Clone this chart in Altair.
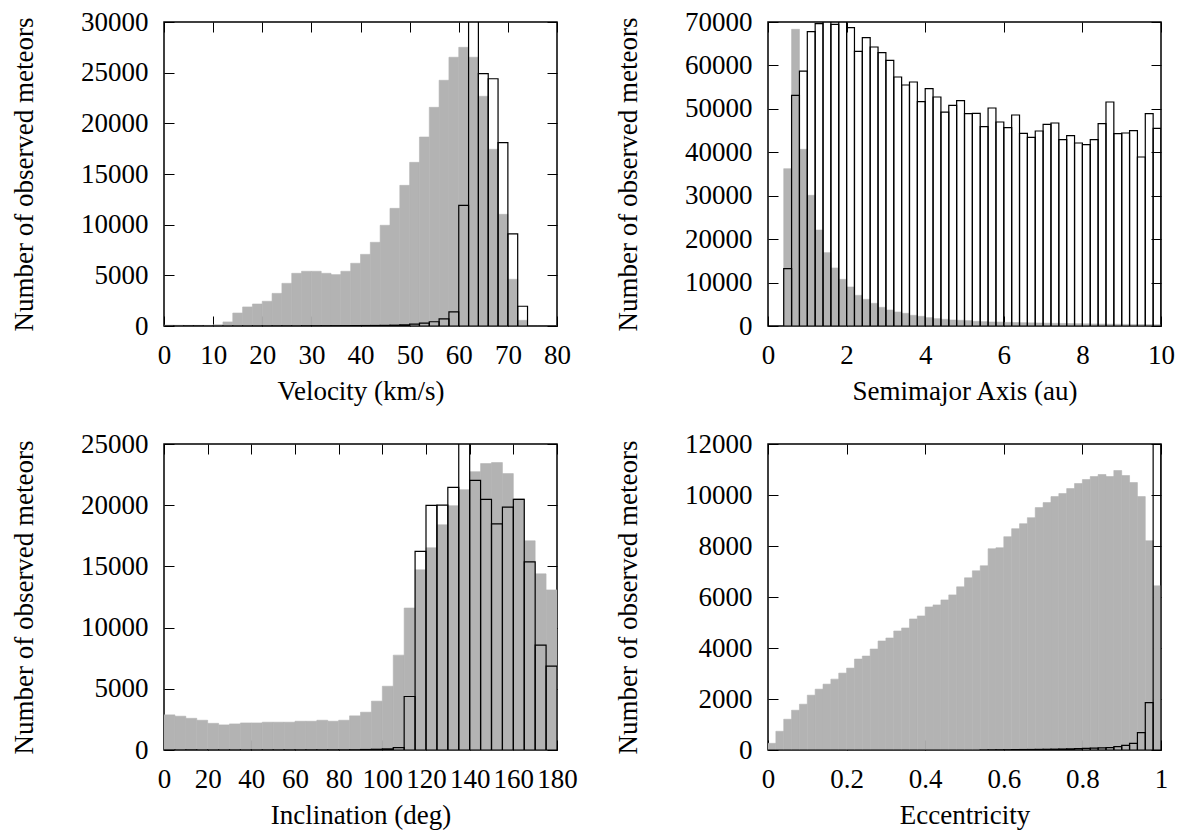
import altair as alt
import pandas as pd

GREY = "#b3b3b3"
FONT = "Liberation Serif"
FS = 27

# ---------------- Velocity (km/s), bins of 2 km/s from 0 to 80 ----------------
vel_lo = list(range(0, 80, 2))
vel_grey = [80, 70, 60, 60, 60, 120, 400, 1280, 1880, 2170,
            2440, 3220, 4210, 5200, 5400, 5400, 5200, 5070, 5400, 6190,
            7070, 8260, 9940, 11610, 13880, 16150, 18650, 21580, 24250, 26520,
            27500, 26520, 22670, 17440, 11020, 4610, 560, 0, 0, 0]
vel_outl = [5, 5, 5, 5, 5, 5, 5, 8, 10, 12,
            15, 18, 20, 22, 25, 28, 30, 32, 35, 40,
            45, 50, 60, 80, 120, 180, 280, 420, 700, 1400,
            11900, 36000, 24900, 24400, 18100, 9100, 1950, 0, 0, 0]

# ---------------- Semimajor axis (au), bins of 0.2 au from 0.4 to 10 ----------------
sma_lo = [round(0.4 + 0.2 * i, 2) for i in range(48)]
sma_grey = [36230, 68310, 40680, 30090, 22100, 16890, 13360, 10750, 8980,
            7060, 6140, 5220, 4300, 3680, 3220, 2920, 2460, 2230,
            1920, 1690, 1540, 1380, 1310, 1230, 1080, 1000, 920, 900,
            840, 800, 760, 720, 690, 650, 620, 590, 560, 530,
            500, 470, 450, 420, 400, 380, 360, 340, 320, 300]
sma_outl = [13200, 53110, 58710, 67770, 69610, 71000, 69460, 71000, 68690,
            63240, 66390, 64240, 62940, 61170, 57330, 55490, 56180, 51650,
            54650, 52730, 49270, 50810, 51880, 48890, 48970, 45900, 50200, 46970,
            45670, 48580, 44360, 43440, 44900, 46430, 46740, 42900, 43820, 42140,
            41750, 42900, 46590, 51580, 44290, 44440, 44980, 38910, 48890, 45510]

# ---------------- Inclination (deg), bins of 5 deg from 0 to 180 ----------------
inc_lo = list(range(0, 180, 5))
inc_grey = [2870, 2760, 2590, 2430, 2180, 2050, 2130, 2210, 2210, 2270,
            2270, 2270, 2350, 2350, 2430, 2350, 2430, 2790, 3090, 3990,
            5210, 7750, 11600, 14720, 16520, 18400, 19960, 21270, 22740, 23400,
            23480, 22580, 20530, 17090, 14390, 13080]
inc_outl = [5, 5, 5, 5, 5, 5, 5, 5, 5, 8,
            8, 10, 10, 12, 12, 15, 15, 20, 40, 60,
            90, 200, 4370, 16220, 19980, 20010, 21460, 27500, 22030, 20480,
            18480, 19850, 20480, 15370, 8570, 6850]

# ---------------- Eccentricity, bins of 0.02 from 0 to 1 ----------------
ecc_lo = [round(0.02 * i, 2) for i in range(50)]
ecc_grey = [262, 734, 1206, 1560, 1796, 2150, 2386, 2583, 2779, 3015,
            3212, 3566, 3684, 3959, 4274, 4392, 4667, 4785, 5139, 5257,
            5611, 5690, 5886, 6083, 6398, 6752, 7027, 7224, 7892, 7932,
            8364, 8679, 8875, 9111, 9505, 9701, 9937, 10055, 10252, 10449,
            10606, 10724, 10803, 10724, 10960, 10763, 10488, 9937, 8207, 6437]
ecc_outl = [0, 0, 0, 0, 0, 0, 0, 0, 0, 0,
            0, 0, 0, 0, 0, 0, 0, 0, 0, 0,
            0, 0, 0, 0, 0, 0, 0, 5, 8, 10,
            12, 15, 18, 20, 24, 28, 32, 38, 45, 52,
            60, 70, 82, 95, 130, 185, 260, 365, 680, 1860]
ecc_outl[-1] = 16000
ecc_outl[-2] = 1860
ecc_outl[-3] = 680

TICK = 10

COMMON = dict(
    labelFont=FONT, titleFont=FONT, labelFontSize=FS, titleFontSize=FS,
    titleFontWeight="normal", labelColor="black", titleColor="black",
    tickColor="black", tickWidth=1, tickSize=TICK, offset=-TICK,
    domain=False, grid=False, labelFlush=False, labelOverlap=False,
)


def panel(lo, binw, grey, outl, xdom, xvals, xfmt, ymax, ystep, xtitle, w, h):
    df = pd.DataFrame({"lo": lo, "grey": grey, "outl": outl})
    df["hi"] = [round(v + binw, 4) for v in lo]
    df["base"] = 0
    yvals = list(range(0, ymax + 1, ystep))
    xs = alt.Scale(domain=xdom, nice=False, zero=False)
    ys = alt.Scale(domain=[0, ymax], nice=False, zero=True)
    xb = alt.Axis(values=xvals, format=xfmt, title=xtitle, orient="bottom",
                  labelPadding=16, titlePadding=10, **COMMON)
    yl = alt.Axis(values=yvals, format="d", title="Number of observed meteors",
                  orient="left", labelPadding=16, titlePadding=42, **COMMON)
    xt = alt.Axis(values=xvals, orient="top", labels=False, title=None, **COMMON)
    yr = alt.Axis(values=yvals, orient="right", labels=False, title=None, **COMMON)

    base = alt.Chart(df)
    g = base.mark_bar(color=GREY, stroke=GREY, strokeWidth=0.6, clip=True).encode(
        x=alt.X("lo:Q", scale=xs, axis=xb), x2="hi:Q",
        y=alt.Y("grey:Q", scale=ys, axis=yl), y2="base:Q")
    o = base.mark_bar(fill="white", fillOpacity=0, stroke="black",
                      strokeWidth=1.2, clip=True).encode(
        x=alt.X("lo:Q", scale=xs, axis=xt), x2="hi:Q",
        y=alt.Y("outl:Q", scale=ys, axis=yr), y2="base:Q")
    return alt.layer(g, o).resolve_axis(x="independent", y="independent").properties(
        width=w, height=h)


W = 393
p1 = panel(vel_lo, 2, vel_grey, vel_outl, [0, 80], list(range(0, 81, 10)), "d",
           30000, 5000, "Velocity (km/s)", W, 304)
p2 = panel(sma_lo, 0.2, sma_grey, sma_outl, [0, 10], [0, 2, 4, 6, 8, 10], "d",
           70000, 10000, "Semimajor Axis (au)", W, 304)
p3 = panel(inc_lo, 5, inc_grey, inc_outl, [0, 180], list(range(0, 181, 20)), "d",
           25000, 5000, "Inclination (deg)", W, 306)
p4 = panel(ecc_lo, 0.02, ecc_grey, ecc_outl, [0, 1], [0, 0.2, 0.4, 0.6, 0.8, 1], "~g",
           12000, 2000, "Eccentricity", W, 306)

chart = alt.concat(p1, p2, p3, p4, columns=2, bounds="flush",
                   spacing={"row": 118, "column": 211}).properties(
    padding={"left": 9, "top": 7, "right": 5, "bottom": 5}
).configure_view(
    stroke="black", strokeWidth=1.5
)

chart.save("out.html", embed_options={"renderer": "svg", "actions": False})
